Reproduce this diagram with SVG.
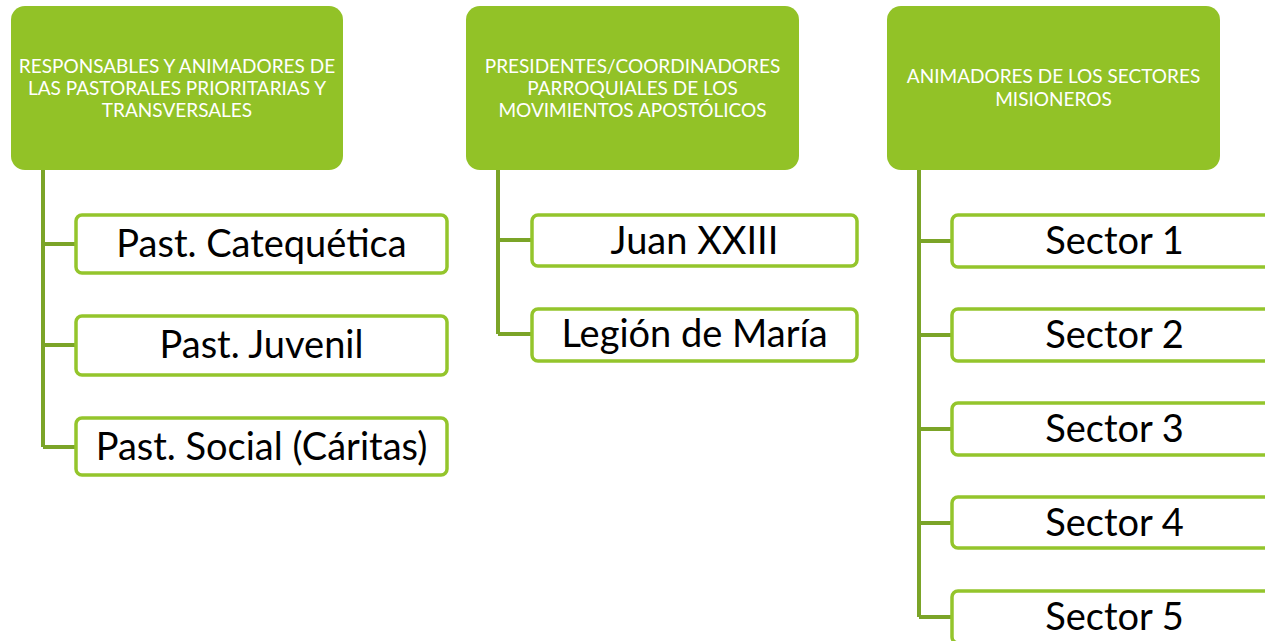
<svg xmlns="http://www.w3.org/2000/svg" width="1265" height="641" viewBox="0 0 1265 641">
<style>
.head{fill:#92c227;}
.ht{font-family:Lato,"Liberation Sans",sans-serif;font-size:19px;fill:#ffffff;text-anchor:middle;}
.child{fill:#ffffff;stroke:#94c52c;stroke-width:3.5;}
.ct{font-family:Lato,"Liberation Sans",sans-serif;font-size:38px;fill:#000000;text-anchor:middle;}
.conn{fill:none;stroke:#7ba428;stroke-width:4;}
</style>
<rect width="1265" height="641" fill="#ffffff"/>
<g id="connectors">
<path class="conn" d="M43 170 V447 M43 244 H75 M43 345 H75 M43 447 H75"/>
<path class="conn" d="M498 170 V334 M498 240 H531 M498 334 H531"/>
<path class="conn" d="M919 170 V617 M919 241 H951 M919 335 H951 M919 429 H951 M919 523 H951 M919 617 H951"/>
</g>
<g id="h1"><rect class="head" x="11" y="6" width="332" height="164" rx="14"/>
<text class="ht" x="177" y="73">RESPONSABLES Y ANIMADORES DE</text>
<text class="ht" x="177" y="95">LAS PASTORALES PRIORITARIAS Y</text>
<text class="ht" x="177" y="117">TRANSVERSALES</text></g>
<g id="h2"><rect class="head" x="466" y="6" width="333" height="164" rx="14"/>
<text class="ht" x="632.5" y="73">PRESIDENTES/COORDINADORES</text>
<text class="ht" x="632.5" y="95">PARROQUIALES DE LOS</text>
<text class="ht" x="632.5" y="117">MOVIMIENTOS APOSTÓLICOS</text></g>
<g id="h3"><rect class="head" x="887" y="6" width="333" height="164" rx="14"/>
<text class="ht" x="1053.5" y="83">ANIMADORES DE LOS SECTORES</text>
<text class="ht" x="1053.5" y="106">MISIONEROS</text></g>
<g id="c1"><rect class="child" x="76" y="215" width="371" height="58" rx="6"/><text class="ct" x="261.5" y="257">Past. Catequética</text></g>
<g id="c2"><rect class="child" x="76" y="316" width="371" height="59" rx="6"/><text class="ct" x="261.5" y="358">Past. Juvenil</text></g>
<g id="c3"><rect class="child" x="76" y="418" width="371" height="57" rx="6"/><text class="ct" x="261.5" y="460">Past. Social (Cáritas)</text></g>
<g id="c4"><rect class="child" x="532" y="215" width="325" height="51" rx="6"/><text class="ct" x="694.5" y="254">Juan XXIII</text></g>
<g id="c5"><rect class="child" x="532" y="309" width="325" height="52" rx="6"/><text class="ct" x="694.5" y="347">Legión de María</text></g>
<g id="s1"><rect class="child" x="952" y="215" width="325" height="52" rx="6"/><text class="ct" x="1114.5" y="254">Sector 1</text></g>
<g id="s2"><rect class="child" x="952" y="309" width="325" height="52" rx="6"/><text class="ct" x="1114.5" y="348">Sector 2</text></g>
<g id="s3"><rect class="child" x="952" y="403" width="325" height="52" rx="6"/><text class="ct" x="1114.5" y="442">Sector 3</text></g>
<g id="s4"><rect class="child" x="952" y="497" width="325" height="51" rx="6"/><text class="ct" x="1114.5" y="536">Sector 4</text></g>
<g id="s5"><rect class="child" x="952" y="591" width="325" height="52" rx="6"/><text class="ct" x="1114.5" y="630">Sector 5</text></g>
</svg>
